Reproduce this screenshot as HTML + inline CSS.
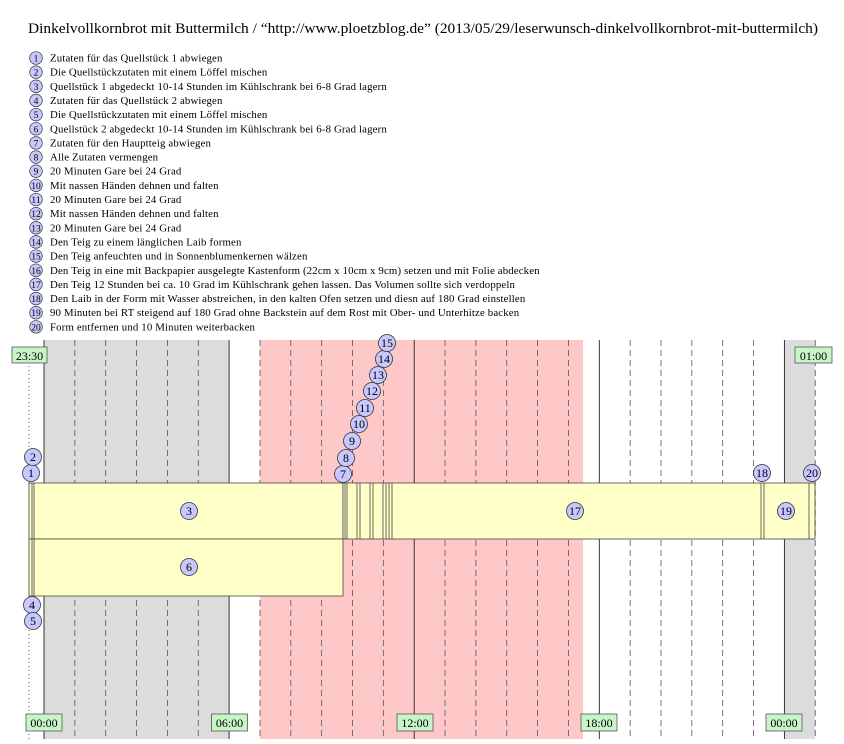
<!DOCTYPE html>
<html><head><meta charset="utf-8"><style>
body{margin:0;background:#fff}
svg text{font-family:"Liberation Serif",serif;fill:#000}
</style></head><body>
<svg width="844" height="739" xmlns="http://www.w3.org/2000/svg">
<text x="28" y="33" font-size="15" textLength="790" lengthAdjust="spacingAndGlyphs">Dinkelvollkornbrot mit Buttermilch / “http://www.ploetzblog.de” (2013/05/29/leserwunsch-dinkelvollkornbrot-mit-buttermilch)</text>
<g font-size="10.8">
<g id="leg"></g>
</g>
<rect x="44" y="340" width="185.5" height="399" fill="#dcdcdc"/>
<rect x="260" y="340" width="323" height="399" fill="#ffc8c8"/>
<rect x="784" y="340" width="31" height="399" fill="#dcdcdc"/>
<g id="vl"></g>
<line x1="29" y1="350" x2="29" y2="739" stroke="#555" stroke-dasharray="1,3"/>
<g stroke="#444" stroke-width="0.8">
<rect x="29" y="483" width="314" height="56" fill="#ffffc8"/>
<rect x="29" y="539" width="314" height="57" fill="#ffffc8"/>
<rect x="343" y="483" width="472" height="56" fill="#ffffc8"/>
<line x1="32" y1="483" x2="32" y2="596"/><line x1="34" y1="483" x2="34" y2="596"/>
<line x1="345" y1="483" x2="345" y2="539"/><line x1="347" y1="483" x2="347" y2="539"/>
<line x1="357" y1="483" x2="357" y2="539"/><line x1="360" y1="483" x2="360" y2="539"/>
<line x1="370" y1="483" x2="370" y2="539"/><line x1="373" y1="483" x2="373" y2="539"/>
<line x1="383" y1="483" x2="383" y2="539"/><line x1="386" y1="483" x2="386" y2="539"/><line x1="389" y1="483" x2="389" y2="539"/><line x1="392" y1="483" x2="392" y2="539"/>
<line x1="761" y1="483" x2="761" y2="539"/><line x1="764" y1="483" x2="764" y2="539"/>
<line x1="809" y1="483" x2="809" y2="539"/>
</g>
<g id="circ" font-size="12"></g>
<g font-size="12" text-anchor="middle">
<rect x="12" y="347" width="35" height="16" fill="#c8f5c8" stroke="#555" stroke-width="0.8"/><text x="29.5" y="360">23:30</text>
<rect x="795" y="347" width="37" height="16" fill="#c8f5c8" stroke="#555" stroke-width="0.8"/><text x="813.5" y="360">01:00</text>
<g id="bl"></g>
</g>
</svg>
<script>
var ns="http://www.w3.org/2000/svg";
function el(p,t,a,txt){var e=document.createElementNS(ns,t);for(var k in a)e.setAttribute(k,a[k]);if(txt!=null)e.textContent=txt;p.appendChild(e);return e;}
var items=["Zutaten für das Quellstück 1 abwiegen","Die Quellstückzutaten mit einem Löffel mischen","Quellstück 1 abgedeckt 10-14 Stunden im Kühlschrank bei 6-8 Grad lagern","Zutaten für das Quellstück 2 abwiegen","Die Quellstückzutaten mit einem Löffel mischen","Quellstück 2 abgedeckt 10-14 Stunden im Kühlschrank bei 6-8 Grad lagern","Zutaten für den Hauptteig abwiegen","Alle Zutaten vermengen","20 Minuten Gare bei 24 Grad","Mit nassen Händen dehnen und falten","20 Minuten Gare bei 24 Grad","Mit nassen Händen dehnen und falten","20 Minuten Gare bei 24 Grad","Den Teig zu einem länglichen Laib formen","Den Teig anfeuchten und in Sonnenblumenkernen wälzen","Den Teig in eine mit Backpapier ausgelegte Kastenform (22cm x 10cm x 9cm) setzen und mit Folie abdecken","Den Teig 12 Stunden bei ca. 10 Grad im Kühlschrank gehen lassen. Das Volumen sollte sich verdoppeln","Den Laib in der Form mit Wasser abstreichen, in den kalten Ofen setzen und diesn auf 180 Grad einstellen","90 Minuten bei RT steigend auf 180 Grad ohne Backstein auf dem Rost mit Ober- und Unterhitze backen","Form entfernen und 10 Minuten weiterbacken"];
var lg=document.getElementById("leg");
items.forEach(function(t,i){var y=58+i*14.15;
el(lg,"circle",{cx:36,cy:y,r:6.3,fill:"#c8c8ff",stroke:"#333","stroke-width":0.7});
el(lg,"text",{x:36,y:y+3.5,"text-anchor":"middle","font-size":9.5},i+1);
el(lg,"text",{x:50,y:y+3.5,"letter-spacing":"0.15"},t);});
var vl=document.getElementById("vl");
for(var h=0;h<=25;h++){var x=44+h*30.85;var solid=(h%6==0);
el(vl,"line",{x1:x,y1:340,x2:x,y2:739,stroke:solid?"#222":"#555","stroke-width":solid?0.9:0.8,"stroke-dasharray":solid?"":"6,4"});}
var c=document.getElementById("circ");
[[1,31,473],[2,33,457],[4,32,605],[5,33,621],[3,189,511],[6,189,567],[7,343,474],[8,346,458],[9,352,441],[10,359,424],[11,365,408],[12,372,391],[13,378,375],[14,384,359],[15,387,343],[17,575,511],[18,762,473],[19,786,511],[20,812,473]].forEach(function(d){
el(c,"circle",{cx:d[1],cy:d[2],r:8.5,fill:"#c8c8ff",stroke:"#333","stroke-width":0.8});
el(c,"text",{x:d[1],y:d[2]+4,"text-anchor":"middle"},d[0]);});
var bl=document.getElementById("bl");
[[44,"00:00"],[229.5,"06:00"],[415,"12:00"],[599,"18:00"],[784,"00:00"]].forEach(function(d){
el(bl,"rect",{x:d[0]-18,y:714,width:36,height:17,fill:"#c8f5c8",stroke:"#555","stroke-width":0.8});
el(bl,"text",{x:d[0],y:727},d[1]);});
</script>
</body></html>
